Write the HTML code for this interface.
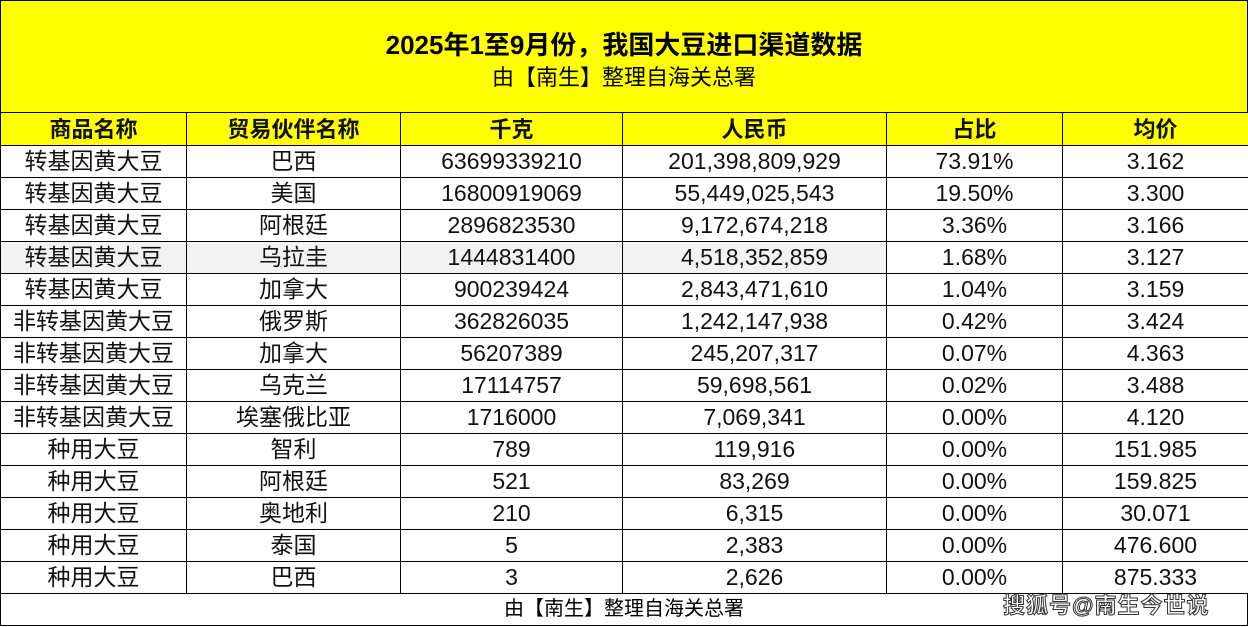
<!DOCTYPE html>
<html><head><meta charset="utf-8"><style>
body{margin:0;width:1248px;height:627px;background:#fff;overflow:hidden;font-family:"Liberation Sans","Noto Sans CJK SC",sans-serif;}
.top{position:absolute;left:0;top:0;width:1246px;height:111px;background:#ffff00;border:1px solid #000;border-bottom:none;text-align:center}
.t1{position:absolute;top:24px;width:100%;font-size:26px;font-weight:bold;color:#000}
.t2{position:absolute;top:59px;width:100%;font-size:22px;color:#000}
table{position:absolute;left:0;top:112px;border-collapse:collapse;table-layout:fixed;width:1248px}
td{border:1px solid #000;height:31px;padding:0;text-align:center;font-size:23px;line-height:31px;color:#111;white-space:nowrap;overflow:hidden}
tr.h td{background:#ffff00;font-weight:bold;font-size:22px;height:32px}
tr.g td.gg{background:#f2f2f2}
.ft{position:absolute;left:0;top:593px;width:1246px;height:31px;border:1px solid #000;text-align:center;font-size:20px;line-height:31px}
.wm{position:absolute;left:1003px;top:588px;font-size:22px;color:#fff;font-weight:bold;-webkit-text-stroke:1px #333;letter-spacing:1px}
</style></head><body>
<div class="top"><div class="t1">2025年1至9月份，我国大豆进口渠道数据</div><div class="t2">由【南生】整理自海关总署</div></div>
<table>
<colgroup><col style="width:186px"><col style="width:214px"><col style="width:222px"><col style="width:264px"><col style="width:176px"><col style="width:186px"></colgroup>
<tr class="h"><td>商品名称</td><td>贸易伙伴名称</td><td>千克</td><td>人民币</td><td>占比</td><td>均价</td></tr>
<tr><td>转基因黄大豆</td><td>巴西</td><td>63699339210</td><td>201,398,809,929</td><td>73.91%</td><td>3.162</td></tr>
<tr><td>转基因黄大豆</td><td>美国</td><td>16800919069</td><td>55,449,025,543</td><td>19.50%</td><td>3.300</td></tr>
<tr><td>转基因黄大豆</td><td>阿根廷</td><td>2896823530</td><td>9,172,674,218</td><td>3.36%</td><td>3.166</td></tr>
<tr class="g"><td class="gg">转基因黄大豆</td><td class="gg">乌拉圭</td><td class="gg">1444831400</td><td class="gg">4,518,352,859</td><td>1.68%</td><td>3.127</td></tr>
<tr><td>转基因黄大豆</td><td>加拿大</td><td>900239424</td><td>2,843,471,610</td><td>1.04%</td><td>3.159</td></tr>
<tr><td>非转基因黄大豆</td><td>俄罗斯</td><td>362826035</td><td>1,242,147,938</td><td>0.42%</td><td>3.424</td></tr>
<tr><td>非转基因黄大豆</td><td>加拿大</td><td>56207389</td><td>245,207,317</td><td>0.07%</td><td>4.363</td></tr>
<tr><td>非转基因黄大豆</td><td>乌克兰</td><td>17114757</td><td>59,698,561</td><td>0.02%</td><td>3.488</td></tr>
<tr><td>非转基因黄大豆</td><td>埃塞俄比亚</td><td>1716000</td><td>7,069,341</td><td>0.00%</td><td>4.120</td></tr>
<tr><td>种用大豆</td><td>智利</td><td>789</td><td>119,916</td><td>0.00%</td><td>151.985</td></tr>
<tr><td>种用大豆</td><td>阿根廷</td><td>521</td><td>83,269</td><td>0.00%</td><td>159.825</td></tr>
<tr><td>种用大豆</td><td>奥地利</td><td>210</td><td>6,315</td><td>0.00%</td><td>30.071</td></tr>
<tr><td>种用大豆</td><td>泰国</td><td>5</td><td>2,383</td><td>0.00%</td><td>476.600</td></tr>
<tr><td>种用大豆</td><td>巴西</td><td>3</td><td>2,626</td><td>0.00%</td><td>875.333</td></tr>
</table>
<div class="ft">由【南生】整理自海关总署</div>
<div class="wm">搜狐号@南生今世说</div>
</body></html>
